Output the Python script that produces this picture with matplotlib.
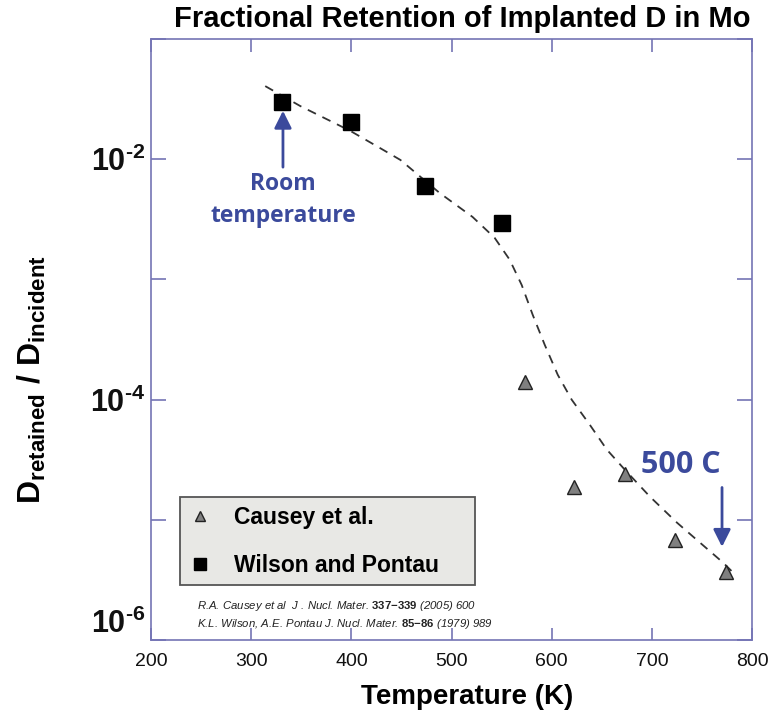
import numpy as np
import matplotlib
matplotlib.use("Agg")
import matplotlib.pyplot as plt
from matplotlib import font_manager
from matplotlib.lines import Line2D

# Wilson and Pontau (filled squares)
wp_temp = [331, 400, 473, 550]
wp_frac = [3.0e-2, 2.05e-2, 6.0e-3, 2.95e-3]

# Causey et al. (grey triangles)
causey_temp = [573, 622, 673, 723, 774]
causey_frac = [1.41e-4, 1.89e-5, 2.42e-5, 6.85e-6, 3.7e-6]

# dashed guide curve
fit_temp = [314, 349, 399, 430, 449, 488, 521, 543, 558, 570, 581, 593,
            606, 620, 638, 655, 673, 698, 725, 748, 771, 783]
fit_frac = [4.06e-2, 2.77e-2, 1.72e-2, 1.22e-2, 9.86e-3, 5.25e-3, 3.31e-3,
            2.22e-3, 1.46e-3, 9.0e-4, 5.08e-4, 2.86e-4, 1.61e-4, 9.97e-5,
            6.18e-5, 3.84e-5, 2.61e-5, 1.56e-5, 9.48e-6, 6.46e-6, 4.41e-6,
            3.51e-6]

x_ticks = [200, 300, 400, 500, 600, 700, 800]
y_ticks = [1e-6, 1e-5, 1e-4, 1e-3, 1e-2, 1e-1]
y_labels = [r"$\mathbf{10^{\text{-}6}}$", "", r"$\mathbf{10^{\text{-}4}}$", "",
            r"$\mathbf{10^{\text{-}2}}$", ""]

BLUE = "#3b4a9c"
SPINE = "#7474b4"

installed = {f.name for f in font_manager.fontManager.ttflist}
NARROW = "Liberation Sans Narrow" if "Liberation Sans Narrow" in installed else "Liberation Sans"

plt.rcParams["font.family"] = "Liberation Sans"
plt.rcParams["mathtext.fontset"] = "custom"
plt.rcParams["mathtext.rm"] = "Liberation Sans:bold"
plt.rcParams["mathtext.it"] = "Liberation Sans:italic"
plt.rcParams["mathtext.bf"] = "Liberation Sans:bold"

fig = plt.figure(figsize=(7.83, 7.18), dpi=100)
ax = fig.add_axes([0.1929, 0.1086, 0.7676, 0.8370])

ax.plot(fit_temp, fit_frac, color="#333333", lw=1.3, ls=(0, (5, 4)), zorder=2)
ax.plot(wp_temp, wp_frac, ls="none", marker="s", ms=12, mfc="black",
        mec="black", zorder=3)
ax.plot(causey_temp, causey_frac, ls="none", marker="^", ms=10.5,
        mfc="#808080", mec="#222222", mew=1.0, zorder=3)

ax.set_yscale("log")
ax.set_xlim(200, 800)
ax.set_ylim(1e-6, 1e-1)
ax.set_xticks(x_ticks)
ax.set_yticks(y_ticks)
ax.set_yticklabels(y_labels)
ax.minorticks_off()

for s in ax.spines.values():
    s.set_color(SPINE)
    s.set_linewidth(1.2)
ax.tick_params(axis="both", direction="in", colors=SPINE, width=1.2,
               top=True, right=True)
ax.tick_params(axis="x", length=9, pad=9, labelsize=14, labelcolor="#111111")
ax.tick_params(axis="y", length=11, pad=4, labelsize=22, labelcolor="#111111")
ax.get_yticklabels()[0].set_va("bottom")

ax.set_xlabel("Temperature (K)", fontsize=20, fontweight="bold", va="center")
ax.xaxis.set_label_coords(0.526, -0.095)
ax.set_ylabel(r"$\mathbf{D_{retained}}$ / $\mathbf{D_{incident}}$",
              fontsize=23, fontweight="bold")
ax.yaxis.set_label_coords(-0.172, 0.433)

fig.text(0.59, 0.974, "Fractional Retention of Implanted D in Mo",
         fontsize=21, fontweight="bold", ha="center", va="center")

# annotations
ax.annotate("", xy=(331.7, 2.67e-2), xytext=(331.7, 8.15e-3),
            arrowprops=dict(arrowstyle="-|>", color=BLUE, lw=2,
                            mutation_scale=26))
ax.text(331.7, 7.9e-3, "Room\ntemperature", color=BLUE, fontsize=16.5,
        fontweight="bold", ha="center", va="top", linespacing=1.45,
        family="Open Sans")
ax.text(729, 2.88e-5, "500 C", color=BLUE, fontsize=22, fontweight="bold",
        ha="center", va="center", family="Open Sans")
ax.annotate("", xy=(770, 5.65e-6), xytext=(770, 1.96e-5),
            arrowprops=dict(arrowstyle="-|>", color=BLUE, lw=2,
                            mutation_scale=26))

handles = [
    Line2D([], [], ls="none", marker="^", ms=7, mfc="#808080", mec="#222222"),
    Line2D([], [], ls="none", marker="s", ms=9, mfc="black", mec="black"),
]
leg = ax.legend(handles, ["Causey et al.", "Wilson and Pontau"],
                loc="lower left", bbox_to_anchor=(0.048, 0.0915, 0.491, 0.147),
                mode="expand", prop=dict(size=16.5, weight="bold"),
                labelspacing=1.08, borderpad=0.37, handlelength=1.0,
                handletextpad=1.0, borderaxespad=0, fancybox=False,
                framealpha=1)
leg.get_frame().set_facecolor("#e8e8e5")
leg.get_frame().set_edgecolor("#555555")
leg.get_frame().set_linewidth(1.3)

ax.text(0.076, 0.057,
        r"R.A. Causey et al  J . Nucl. Mater. $\mathbf{337{-}339}$ (2005) 600",
        transform=ax.transAxes, fontsize=8.2, style="italic", family=NARROW,
        color="#222222", va="center")
ax.text(0.076, 0.027,
        r"K.L. Wilson, A.E. Pontau J. Nucl. Mater. $\mathbf{85{-}86}$ (1979) 989",
        transform=ax.transAxes, fontsize=8.2, style="italic", family=NARROW,
        color="#222222", va="center")

fig.savefig("out.png", dpi=100)
